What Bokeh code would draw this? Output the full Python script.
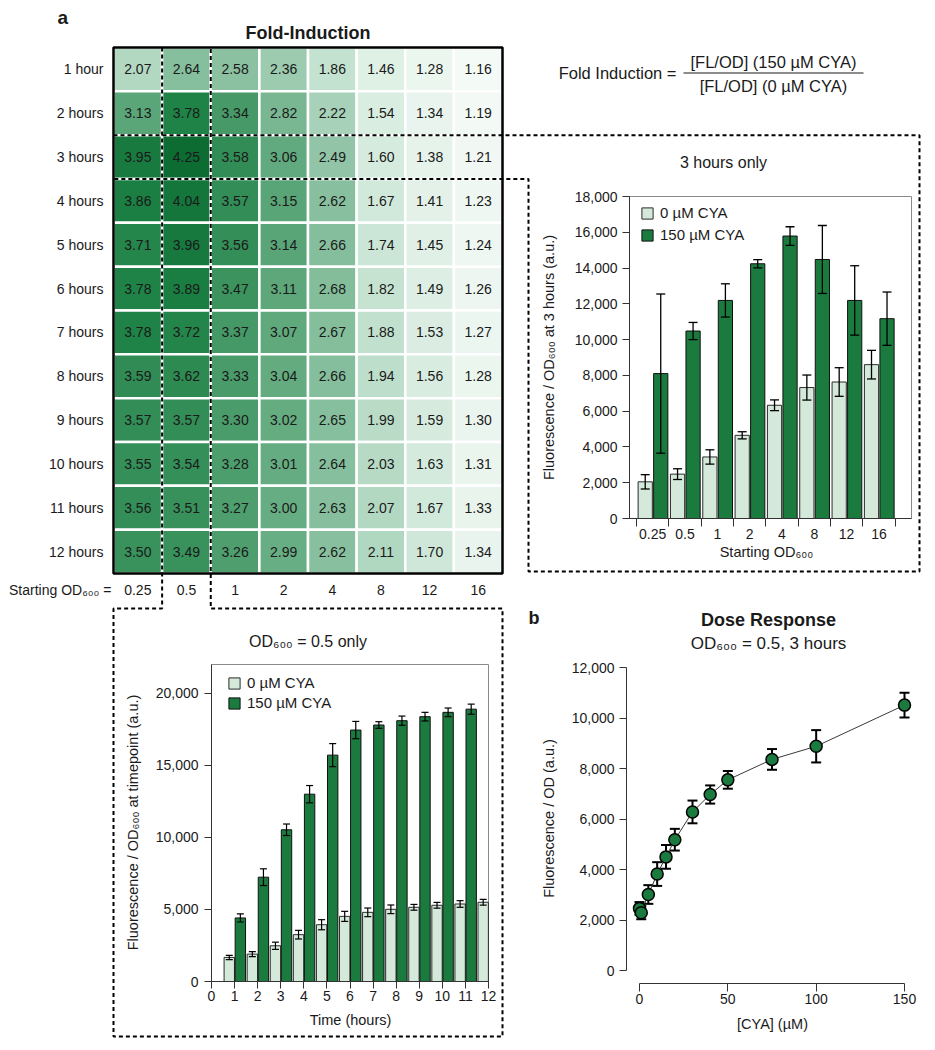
import numpy as np
from bokeh.plotting import figure
from bokeh.models import (Range1d, LinearAxis, FixedTicker, NumeralTickFormatter,
                          ColumnDataSource, Whisker, TeeHead, Legend, LegendItem,
                          LinearColorMapper)
from bokeh.transform import transform
from bokeh.core.properties import value
from bokeh.embed import file_html
from bokeh.resources import INLINE

# ---------------- data ----------------
od_labels = ["0.25", "0.5", "1", "2", "4", "8", "12", "16"]
hour_labels = ["1 hour"] + [f"{h} hours" for h in range(2, 13)]
fold_induction = [
    [2.07, 2.64, 2.58, 2.36, 1.86, 1.46, 1.28, 1.16],
    [3.13, 3.78, 3.34, 2.82, 2.22, 1.54, 1.34, 1.19],
    [3.95, 4.25, 3.58, 3.06, 2.49, 1.60, 1.38, 1.21],
    [3.86, 4.04, 3.57, 3.15, 2.62, 1.67, 1.41, 1.23],
    [3.71, 3.96, 3.56, 3.14, 2.66, 1.74, 1.45, 1.24],
    [3.78, 3.89, 3.47, 3.11, 2.68, 1.82, 1.49, 1.26],
    [3.78, 3.72, 3.37, 3.07, 2.67, 1.88, 1.53, 1.27],
    [3.59, 3.62, 3.33, 3.04, 2.66, 1.94, 1.56, 1.28],
    [3.57, 3.57, 3.30, 3.02, 2.65, 1.99, 1.59, 1.30],
    [3.55, 3.54, 3.28, 3.01, 2.64, 2.03, 1.63, 1.31],
    [3.56, 3.51, 3.27, 3.00, 2.63, 2.07, 1.67, 1.33],
    [3.50, 3.49, 3.26, 2.99, 2.62, 2.11, 1.70, 1.34],
]

# 3 hours only, per starting OD600
h3_cya0 = [2050, 2480, 3440, 4650, 6330, 7320, 7630, 8600]
h3_cya0_err = [400, 300, 400, 200, 300, 700, 800, 800]
h3_cya150 = [8100, 10480, 12190, 14240, 15790, 14480, 12190, 11170]
h3_cya150_err = [4450, 480, 930, 230, 520, 1900, 1940, 1490]

# OD600 = 0.5 only, per timepoint
time_cya0 = [1, 2, 3, 4, 5, 6, 7, 8, 9, 10, 11, 12]
od05_cya0 = [1670, 1900, 2480, 3250, 3940, 4520, 4800, 5010, 5150, 5290, 5380, 5500]
od05_cya0_err = [150, 180, 250, 300, 350, 350, 300, 300, 200, 200, 230, 200]
time_cya150 = [1, 2, 3, 4, 5, 6, 7, 8, 9, 10, 11]
od05_cya150 = [4410, 7240, 10530, 13000, 15710, 17450, 17800, 18100, 18380, 18680, 18900]
od05_cya150_err = [280, 580, 400, 600, 800, 600, 230, 320, 300, 300, 350]
time_ticks = list(range(0, 13))

# dose response
cya_dose = [0, 1, 5, 10, 15, 20, 30, 40, 50, 75, 100, 150]
dose_fl = [2460, 2290, 3010, 3820, 4500, 5180, 6280, 6970, 7550, 8360, 8880, 10510]
dose_err = [250, 260, 370, 470, 470, 430, 450, 360, 350, 410, 640, 490]

h3_yticks = list(range(0, 18001, 2000))
od05_yticks = list(range(0, 20001, 5000))
dose_yticks = list(range(0, 12001, 2000))
dose_xticks = [0, 50, 100, 150]

# ---------------- layout (page pixels) ----------------
FONT = "Liberation Sans"
PX0, PX1, PY0, PY1 = 0, 927, 0, 1042
HM_L, HM_R, HM_T, HM_B = 113, 502, 47, 573
LIGHT, DARK, OUT, AX = "#d4e9da", "#1b7b3f", "#2b2b2b", "#333333"
TXT = "#1a1a1a"

def xr(v0, p0, v1, p1):
    s = (v1 - v0) / (p1 - p0)
    return Range1d(v0 + (PX0 - p0) * s, v0 + (PX1 - p0) * s)

def yr(v0, p0, v1, p1):
    s = (v1 - v0) / (p1 - p0)
    return Range1d(v0 + (PY1 - p0) * s, v0 + (PY0 - p0) * s)

p = figure(width=PX1 - PX0, height=PY1 - PY0,
           x_range=Range1d(PX0, PX1), y_range=Range1d(PY1, PY0),
           x_axis_type=None, y_axis_type=None, toolbar_location=None,
           output_backend="svg", min_border=0)
p.outline_line_color = None

ncol, nrow = len(od_labels), len(hour_labels)
p.extra_x_ranges = {
    "hx": xr(0, HM_L, ncol, HM_R),
    "b1x": xr(-0.5, 636, ncol - 0.5, 894.6),
    "b2x": xr(0, 211, 12, 488),
    "dx": xr(0, 639, 150, 904),
}
p.extra_y_ranges = {
    "hy": yr(0, HM_T, nrow, HM_B),
    "b1y": yr(0, 518, 18000, 196),
    "b2y": yr(0, 981, 22000, 664),
    "dy": yr(0, 970, 12000, 667),
}

def txt(x, y, s, size, bold=False, align="center", angle=0.0, xn="default", yn="default", color=TXT):
    p.text(x=[x], y=[y], text=[s], text_font=value(FONT), text_font_size=value(size),
           text_font_style=value("bold" if bold else "normal"), text_align=value(align),
           text_baseline=value("middle"), angle=angle, text_color=color,
           x_range_name=xn, y_range_name=yn)

# ---------------- heatmap ----------------
CMAP_LOW, CMAP_HIGH = 1.0, 4.25
cmap_stops = [(1.0, "#ffffff"), (1.86, "#c3e2cf"), (2.36, "#9ccbb0"),
              (2.82, "#78b791"), (3.78, "#1f8246"), (4.25, "#0c6c32")]

def hex2rgb(c):
    return np.array([int(c[i:i + 2], 16) for i in (1, 3, 5)], dtype=float)

sv = np.array([s[0] for s in cmap_stops])
sc = np.array([hex2rgb(s[1]) for s in cmap_stops])
palette = []
for v in np.linspace(CMAP_LOW, CMAP_HIGH, 256):
    rgb = [np.interp(v, sv, sc[:, k]) for k in range(3)]
    palette.append("#%02x%02x%02x" % tuple(int(round(c)) for c in rgb))
cmap = LinearColorMapper(palette=palette, low=CMAP_LOW, high=CMAP_HIGH)

hx, hy, hv, ht = [], [], [], []
for j, row in enumerate(fold_induction):
    for i, v in enumerate(row):
        hx.append(i + 0.5); hy.append(j + 0.5); hv.append(v); ht.append(f"{v:.2f}")
hsrc = ColumnDataSource(dict(x=hx, y=hy, val=hv, label=ht))
p.rect(x="x", y="y", width=1, height=1, source=hsrc, fill_color=transform("val", cmap),
       line_color="white", line_width=2.5, x_range_name="hx", y_range_name="hy")
p.text(x="x", y="y", text="label", source=hsrc, text_font=value(FONT),
       text_font_size=value("14px"), text_align=value("center"),
       text_baseline=value("middle"), text_color=TXT, x_range_name="hx", y_range_name="hy")

# row labels (x in page px, y in rows)
p.text(x=[HM_L - 10] * nrow, y=[j + 0.5 for j in range(nrow)], text=hour_labels,
       text_font=value(FONT), text_font_size=value("14px"), text_align=value("right"),
       text_baseline=value("middle"), text_color=TXT, x_range_name="default", y_range_name="hy")
# column labels (x in columns, y in page px)
p.text(x=[i + 0.5 for i in range(ncol)], y=[589] * ncol, text=od_labels,
       text_font=value(FONT), text_font_size=value("14px"), text_align=value("center"),
       text_baseline=value("middle"), text_color=TXT, x_range_name="hx", y_range_name="default")
txt(111, 589, "Starting OD₆₀₀ =", "14px", align="right")

# dashed guide boxes
cw = (HM_R - HM_L) / ncol
rh = (HM_B - HM_T) / nrow
r3_top, r3_bot = HM_T + 2 * rh, HM_T + 3 * rh
c1, c2 = HM_L + cw, HM_L + 2 * cw
boxA_x = [HM_L, 919, 919, 528, 528, HM_L]
boxA_y = [r3_top, r3_top, 571, 571, r3_bot, r3_bot]
boxB_x = [c1, c1, HM_L, HM_L, HM_R, HM_R, c2, c2]
boxB_y = [HM_T, 608, 608, 1036, 1036, 608, 608, HM_T]
p.multi_line(xs=[boxA_x, boxB_x], ys=[boxA_y, boxB_y], line_color="black",
             line_width=2, line_dash="4 3")

p.rect(x=[ncol / 2], y=[nrow / 2], width=ncol, height=nrow, fill_color=None,
       line_color="black", line_width=2.5, x_range_name="hx", y_range_name="hy")

txt(57, 17, "a", "19px", bold=True, align="left")
txt((HM_L + HM_R) / 2, 32, "Fold-Induction", "18px", bold=True)

# formula
txt(676, 72, "Fold Induction =", "16.5px", align="right")
txt(773, 61, "[FL/OD] (150 µM CYA)", "16.5px")
txt(773, 85, "[FL/OD] (0 µM CYA)", "16.5px")
p.segment(x0=[683], y0=[72.5], x1=[863], y1=[72.5], line_color=TXT, line_width=1.2)

# ---------------- axis helpers ----------------
def style_axis(ax, label_standoff):
    ax.axis_line_color = AX
    ax.major_tick_line_color = AX
    ax.minor_tick_line_color = AX
    ax.major_label_text_font = FONT
    ax.major_label_text_font_size = "14px"
    ax.major_label_text_color = TXT
    ax.major_label_standoff = label_standoff
    ax.major_tick_in = 0
    ax.minor_tick_in = 0
    ax.minor_tick_out = 0

def y_axis(rname, loc, bounds, ticks, standoff=5, tick_out=7):
    ax = LinearAxis(y_range_name=rname, fixed_location=loc, bounds=bounds,
                    ticker=FixedTicker(ticks=ticks), formatter=NumeralTickFormatter(format="0,0"))
    style_axis(ax, standoff)
    ax.major_tick_out = tick_out
    p.add_layout(ax, "left")
    return ax

def x_axis(rname, loc, bounds, ticks, standoff=2, tick_out=7, minor=None, overrides=None):
    ax = LinearAxis(x_range_name=rname, fixed_location=loc, bounds=bounds,
                    ticker=FixedTicker(ticks=ticks, minor_ticks=minor or []),
                    formatter=NumeralTickFormatter(format="0,0"))
    style_axis(ax, standoff)
    ax.major_tick_out = tick_out
    if overrides:
        ax.major_label_overrides = overrides
    p.add_layout(ax, "below")
    return ax

def whisk(src, xn, yn, width, size, level):
    w = Whisker(base="x", upper="hi", lower="lo", source=src, dimension="height",
                line_color="black", line_width=width,
                upper_head=TeeHead(size=size, line_color="black", line_width=width),
                lower_head=TeeHead(size=size, line_color="black", line_width=width),
                x_range_name=xn, y_range_name=yn, level=level)
    p.add_layout(w)

# ---------------- 3 hours only ----------------
txt(723, 162, "3 hours only", "16px")
p.quad(left=[629], right=[911], top=[196], bottom=[518], fill_color=None,
       line_color="#8a8a8a", line_width=1)
g = np.arange(ncol)
s10 = ColumnDataSource(dict(x=g - 0.23, top=h3_cya0,
                            lo=np.array(h3_cya0) - np.array(h3_cya0_err),
                            hi=np.array(h3_cya0) + np.array(h3_cya0_err)))
s11 = ColumnDataSource(dict(x=g + 0.25, top=h3_cya150,
                            lo=np.array(h3_cya150) - np.array(h3_cya150_err),
                            hi=np.array(h3_cya150) + np.array(h3_cya150_err)))
r10 = p.vbar(x="x", top="top", bottom=0, width=0.44, source=s10, fill_color=LIGHT,
             line_color=OUT, line_width=1, x_range_name="b1x", y_range_name="b1y")
r11 = p.vbar(x="x", top="top", bottom=0, width=0.44, source=s11, fill_color=DARK,
             line_color="#111111", line_width=1, x_range_name="b1x", y_range_name="b1y")
whisk(s10, "b1x", "b1y", 1.3, 9, "annotation")
whisk(s11, "b1x", "b1y", 1.3, 9, "annotation")
y_axis("b1y", 629, (0, 18000), h3_yticks, standoff=5)
ax1x = x_axis("b1x", 518, (-0.72, ncol), list(range(ncol)), standoff=2, tick_out=0,
              minor=[k - 0.5 for k in range(ncol + 1)],
              overrides={i: lab for i, lab in enumerate(od_labels)})
ax1x.minor_tick_out = 8
txt(548, 357, "Fluorescence / OD₆₀₀ at 3 hours (a.u.)", "14.5px", angle=np.pi / 2)
txt(766, 551, "Starting OD₆₀₀", "14.5px")

leg1 = Legend(items=[LegendItem(label="0 µM CYA", renderers=[r10]),
                     LegendItem(label="150 µM CYA", renderers=[r11])],
              location=(640 - PX0, PY1 - 243))

# ---------------- OD600 = 0.5 only ----------------
txt((HM_L + HM_R) / 2, 641, "OD₆₀₀ = 0.5 only", "16px")
p.quad(left=[211], right=[488], top=[664], bottom=[981], fill_color=None,
       line_color="#8a8a8a", line_width=1)
s20 = ColumnDataSource(dict(x=np.array(time_cya0) - 0.23, top=od05_cya0,
                            lo=np.array(od05_cya0) - np.array(od05_cya0_err),
                            hi=np.array(od05_cya0) + np.array(od05_cya0_err)))
s21 = ColumnDataSource(dict(x=np.array(time_cya150) + 0.25, top=od05_cya150,
                            lo=np.array(od05_cya150) - np.array(od05_cya150_err),
                            hi=np.array(od05_cya150) + np.array(od05_cya150_err)))
r20 = p.vbar(x="x", top="top", bottom=0, width=0.45, source=s20, fill_color=LIGHT,
             line_color=OUT, line_width=1, x_range_name="b2x", y_range_name="b2y")
r21 = p.vbar(x="x", top="top", bottom=0, width=0.45, source=s21, fill_color=DARK,
             line_color="#111111", line_width=1, x_range_name="b2x", y_range_name="b2y")
whisk(s20, "b2x", "b2y", 1.2, 7, "annotation")
whisk(s21, "b2x", "b2y", 1.2, 7, "annotation")
y_axis("b2y", 211, (0, 22000), od05_yticks, standoff=6)
x_axis("b2x", 981, (0, 12), time_ticks, standoff=2, tick_out=7)
txt(132, 822, "Fluorescence / OD₆₀₀ at timepoint (a.u.)", "14.5px", angle=np.pi / 2)
txt(350, 1019, "Time (hours)", "14.5px")

leg2 = Legend(items=[LegendItem(label="0 µM CYA", renderers=[r20]),
                     LegendItem(label="150 µM CYA", renderers=[r21])],
              location=(227 - PX0, PY1 - 711))

for leg, sp in ((leg1, 5), (leg2, 3)):
    leg.border_line_color = None
    leg.background_fill_alpha = 0
    leg.padding = 0
    leg.margin = 0
    leg.spacing = sp
    leg.glyph_width = 14
    leg.glyph_height = 14
    leg.label_height = 14
    leg.label_standoff = 6
    leg.label_text_font = FONT
    leg.label_text_font_size = "15px"
    leg.label_text_color = TXT
    p.add_layout(leg)

# ---------------- dose response ----------------
txt(528, 617, "b", "18px", bold=True, align="left")
txt(768, 619, "Dose Response", "18px", bold=True)
txt(768, 643, "OD₆₀₀ = 0.5, 3 hours", "17px")
sd = ColumnDataSource(dict(x=cya_dose, y=dose_fl,
                           lo=np.array(dose_fl) - np.array(dose_err),
                           hi=np.array(dose_fl) + np.array(dose_err)))
whisk(sd, "dx", "dy", 2, 10, "underlay")
p.line(x="x", y="y", source=sd, line_color="#3a3a3a", line_width=1,
       x_range_name="dx", y_range_name="dy")
p.scatter(x="x", y="y", source=sd, size=12, fill_color=DARK, line_color="black",
          line_width=1.5, x_range_name="dx", y_range_name="dy")
y_axis("dy", 626, (0, 12000), dose_yticks, standoff=5)
x_axis("dx", 983, (0, 150), dose_xticks, standoff=2, tick_out=8)
txt(548, 818, "Fluorescence / OD (a.u.)", "14.5px", angle=np.pi / 2)
txt(772, 1023, "[CYA] (µM)", "14.5px")

open("out.html", "w").write(file_html(p, INLINE))
